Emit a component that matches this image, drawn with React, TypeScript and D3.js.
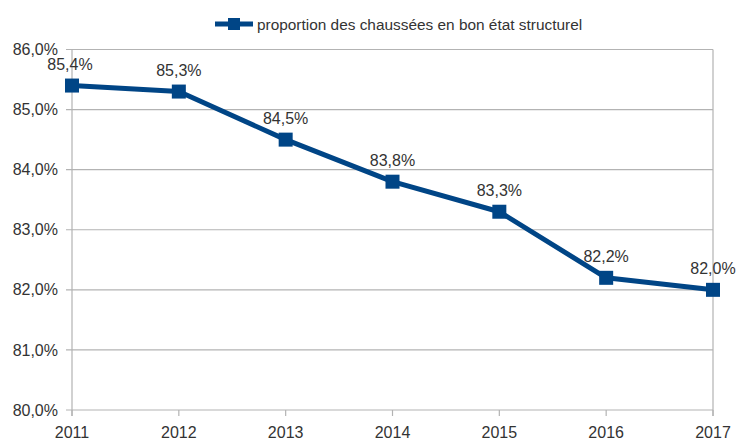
import React from "react";
import * as d3 from "d3";

const years = ["2011", "2012", "2013", "2014", "2015", "2016", "2017"];
const values = [85.4, 85.3, 84.5, 83.8, 83.3, 82.2, 82.0];
const yTicks = [80, 81, 82, 83, 84, 85, 86];
const seriesName = "proportion des chaussées en bon état structurel";

const W = 737;
const H = 441;
const left = 72;
const right = 713;
const top = 49.5;
const bottom = 410;
const font = "'Liberation Sans', Arial, sans-serif";
const blue = "#004586";
const grid = "#b3b3b3";
const textColor = "#333333";

const fmt = (v: number) => v.toFixed(1).replace(".", ",") + "%";

export default function App() {
  const x = d3.scalePoint<string>().domain(years).range([left, right]);
  const y = d3.scaleLinear().domain([80, 86]).range([bottom, top]);
  const line = d3
    .line<number>()
    .x((_, i) => x(years[i]) as number)
    .y((d) => y(d));
  const ms = 14;

  return (
    <svg
      width={W}
      height={H}
      style={{ position: "absolute", left: 0, top: 0, background: "#fff" }}
      fontFamily={font}
    >
      {yTicks.map((t) => (
        <g key={t}>
          <line x1={left - 6} x2={right} y1={y(t)} y2={y(t)} stroke={grid} strokeWidth={1.2} />
          <text
            x={left - 14}
            y={y(t)}
            dy="0.35em"
            textAnchor="end"
            fontSize={16}
            fill={textColor}
          >
            {fmt(t)}
          </text>
        </g>
      ))}
      <line x1={left} x2={left} y1={top} y2={bottom + 6} stroke={grid} strokeWidth={1.2} />
      <line x1={right} x2={right} y1={top} y2={bottom + 6} stroke={grid} strokeWidth={1.2} />
      {years.map((yr) => (
        <g key={yr}>
          <line
            x1={x(yr)}
            x2={x(yr)}
            y1={bottom}
            y2={bottom + 6}
            stroke={grid}
            strokeWidth={1.2}
          />
          <text
            x={x(yr)}
            y={438}
            textAnchor="middle"
            fontSize={16}
            fill={textColor}
          >
            {yr}
          </text>
        </g>
      ))}
      <path d={line(values) || ""} fill="none" stroke={blue} strokeWidth={5} strokeLinejoin="round" />
      {values.map((v, i) => (
        <g key={i}>
          <rect
            x={(x(years[i]) as number) - ms / 2}
            y={y(v) - ms / 2}
            width={ms}
            height={ms}
            fill={blue}
          />
          <text
            x={(x(years[i]) as number) - (i === 0 ? 2 : 0)}
            y={y(v) - 16}
            textAnchor="middle"
            fontSize={16}
            fill={textColor}
          >
            {fmt(v)}
          </text>
        </g>
      ))}
      <line x1={215} x2={253} y1={24} y2={24} stroke={blue} strokeWidth={5} />
      <rect x={234 - 6} y={24 - 6} width={12} height={12} fill={blue} />
      <text x={257} y={29.5} fontSize={15.4} fill={textColor}>
        {seriesName}
      </text>
    </svg>
  );
}
